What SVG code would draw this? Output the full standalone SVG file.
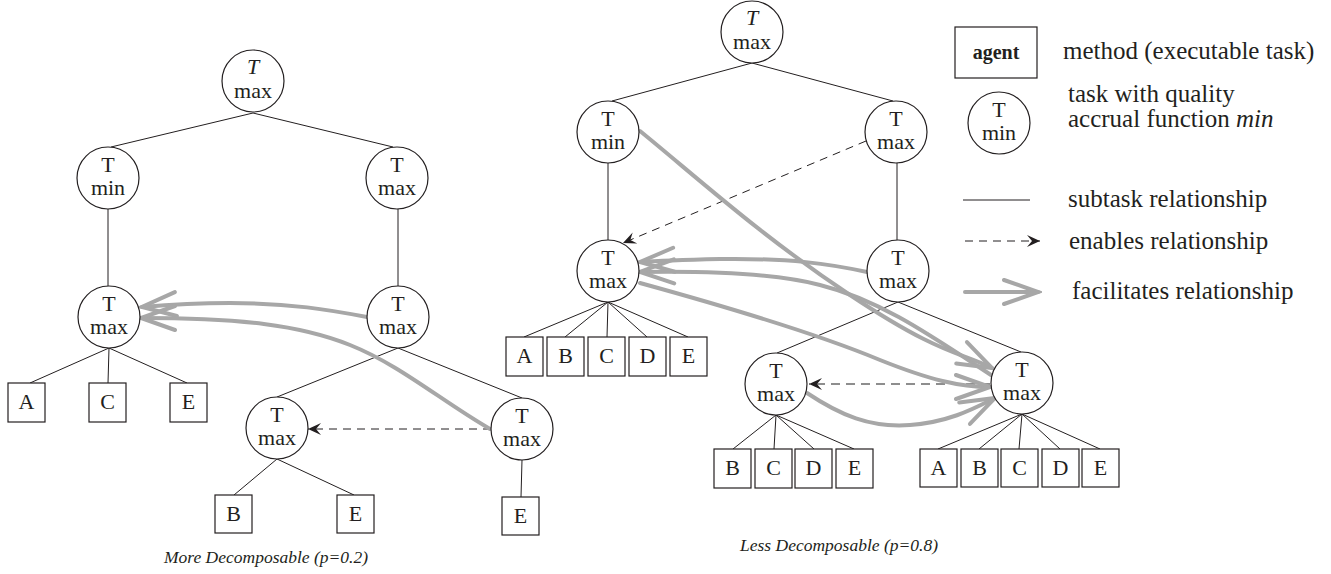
<svg xmlns="http://www.w3.org/2000/svg" width="1331" height="574" viewBox="0 0 1331 574">
<defs>
<style>
.c{fill:#fff;stroke:#231f20;stroke-width:1.2}
.b{fill:#fff;stroke:#231f20;stroke-width:1.2}
.t{font-family:"Liberation Serif",serif;font-size:22px;fill:#231f20;text-anchor:middle}
.ti{font-style:italic}
.l{stroke:#231f20;stroke-width:1;fill:none}
.g{stroke:#a7a7a7;stroke-width:4;fill:none;stroke-linecap:round}
.d{stroke:#231f20;stroke-width:1;fill:none;stroke-dasharray:8 6}
.dg{stroke:#6a6a6a;stroke-width:1.4;fill:none;stroke-dasharray:9 6}
.lg{font-family:"Liberation Serif",serif;font-size:25px;fill:#231f20}
.cap{font-family:"Liberation Serif",serif;font-size:17.5px;font-style:italic;fill:#231f20;text-anchor:middle}
</style>
<marker id="en" markerUnits="userSpaceOnUse" markerWidth="20" markerHeight="14" viewBox="-14 -7 16 14" refX="0" refY="0" orient="auto">
<path d="M0,0 L-13,-6 L-8,0 L-13,6 Z" fill="#231f20"/>
</marker>
<marker id="fa" markerUnits="userSpaceOnUse" markerWidth="44" markerHeight="34" viewBox="-40 -17 44 34" refX="0" refY="0" orient="auto">
<path d="M-34,-12 L0,0 L-34,12" fill="none" stroke="#a7a7a7" stroke-width="4" stroke-linecap="round"/>
</marker>
</defs>

<g id="connectors">
<line class="l" x1="253" y1="113" x2="111" y2="147"/>
<line class="l" x1="253" y1="113" x2="393" y2="147"/>
<line class="l" x1="108" y1="209" x2="108" y2="286"/>
<line class="l" x1="398" y1="209" x2="398" y2="286"/>
<line class="l" x1="109" y1="348" x2="30" y2="383"/>
<line class="l" x1="109" y1="348" x2="108" y2="383"/>
<line class="l" x1="109" y1="348" x2="187" y2="383"/>
<line class="l" x1="398" y1="348" x2="277" y2="397"/>
<line class="l" x1="398" y1="348" x2="522" y2="398"/>
<line class="l" x1="277" y1="459" x2="234" y2="495"/>
<line class="l" x1="277" y1="459" x2="354" y2="495"/>
<line class="l" x1="522" y1="460" x2="521" y2="497"/>
<line class="l" x1="752" y1="63" x2="612" y2="101"/>
<line class="l" x1="752" y1="63" x2="893" y2="101"/>
<line class="l" x1="608" y1="163" x2="608" y2="240"/>
<line class="l" x1="897" y1="163" x2="897" y2="240"/>
<line class="l" x1="608" y1="302" x2="524" y2="337"/>
<line class="l" x1="608" y1="302" x2="565" y2="337"/>
<line class="l" x1="608" y1="302" x2="607" y2="337"/>
<line class="l" x1="608" y1="302" x2="647" y2="337"/>
<line class="l" x1="608" y1="302" x2="688" y2="337"/>
<line class="l" x1="898" y1="302" x2="777" y2="353"/>
<line class="l" x1="898" y1="302" x2="1021" y2="352"/>
<line class="l" x1="776" y1="415" x2="733" y2="449"/>
<line class="l" x1="776" y1="415" x2="774" y2="449"/>
<line class="l" x1="776" y1="415" x2="814" y2="449"/>
<line class="l" x1="776" y1="415" x2="854" y2="449"/>
<line class="l" x1="1022" y1="414" x2="938" y2="449"/>
<line class="l" x1="1022" y1="414" x2="979" y2="449"/>
<line class="l" x1="1022" y1="414" x2="1019" y2="449"/>
<line class="l" x1="1022" y1="414" x2="1060" y2="449"/>
<line class="l" x1="1022" y1="414" x2="1100" y2="449"/>
<line class="d" x1="491" y1="429" x2="308" y2="429" marker-end="url(#en)"/>
<line class="d" x1="866" y1="141" x2="623" y2="243" marker-end="url(#en)"/>
<line class="dg" x1="990" y1="384" x2="809" y2="384" marker-end="url(#en)"/>
<path class="g" d="M367,317 C330,310 290,303 230,303 C190,303 165,305 142,307" marker-end="url(#fa)"/>
<path class="g" d="M490,429 C440,400 400,365 350,345 C300,325 240,318 141,318" marker-end="url(#fa)"/>
<path class="g" d="M867,272 C830,264 790,258 720,259 C680,260 655,261 640,262" marker-end="url(#fa)"/>
<path class="g" d="M991,375 C930,335 880,300 820,285 C770,272 700,271 640,272" marker-end="url(#fa)"/>
<path class="g" d="M640,131 C700,180 760,235 850,295 S960,352 992,368" marker-end="url(#fa)"/>
<path class="g" d="M640,283 C720,305 820,335 880,360 C930,380 960,387 990,387" marker-end="url(#fa)"/>
<path class="g" d="M807,393 C840,415 870,428 910,425 C950,422 975,408 995,398" marker-end="url(#fa)"/>
</g>

<g id="L-root"><circle class="c" cx="253" cy="81" r="31"/><text class="t ti" x="253" y="74">T</text><text class="t" x="253" y="98">max</text></g>
<g id="L-min"><circle class="c" cx="108" cy="178" r="31"/><text class="t" x="108" y="172">T</text><text class="t" x="108" y="195">min</text></g>
<g id="L-max2"><circle class="c" cx="397" cy="178" r="31"/><text class="t" x="397" y="172">T</text><text class="t" x="397" y="195">max</text></g>
<g id="L-max3a"><circle class="c" cx="109" cy="317" r="31"/><text class="t" x="109" y="311">T</text><text class="t" x="109" y="334">max</text></g>
<g id="L-max3b"><circle class="c" cx="398" cy="317" r="31"/><text class="t" x="398" y="311">T</text><text class="t" x="398" y="334">max</text></g>
<g id="L-max4a"><circle class="c" cx="277" cy="428" r="31"/><text class="t" x="277" y="422">T</text><text class="t" x="277" y="445">max</text></g>
<g id="L-max4b"><circle class="c" cx="522" cy="429" r="31"/><text class="t" x="522" y="423">T</text><text class="t" x="522" y="446">max</text></g>
<g id="L-A"><rect class="b" x="8" y="383" width="37" height="39"/><text class="t" x="26.5" y="409">A</text></g>
<g id="L-C"><rect class="b" x="89" y="383" width="37" height="39"/><text class="t" x="107.5" y="409">C</text></g>
<g id="L-E"><rect class="b" x="170" y="383" width="37" height="39"/><text class="t" x="188.5" y="409">E</text></g>
<g id="L-B2"><rect class="b" x="215" y="495" width="37" height="38"/><text class="t" x="233.5" y="521">B</text></g>
<g id="L-E2"><rect class="b" x="337" y="495" width="37" height="38"/><text class="t" x="355.5" y="521">E</text></g>
<g id="L-E3"><rect class="b" x="502" y="497" width="37" height="38"/><text class="t" x="520.5" y="523">E</text></g>
<text class="cap" x="266" y="563">More Decomposable (p=0.2)</text>

<g id="R-root"><circle class="c" cx="752" cy="32" r="31"/><text class="t ti" x="752" y="25">T</text><text class="t" x="752" y="49">max</text></g>
<g id="R-min"><circle class="c" cx="608" cy="132" r="31"/><text class="t" x="608" y="126">T</text><text class="t" x="608" y="149">min</text></g>
<g id="R-max2"><circle class="c" cx="896" cy="132" r="31"/><text class="t" x="896" y="126">T</text><text class="t" x="896" y="149">max</text></g>
<g id="R-max3a"><circle class="c" cx="608" cy="271" r="31"/><text class="t" x="608" y="265">T</text><text class="t" x="608" y="288">max</text></g>
<g id="R-max3b"><circle class="c" cx="898" cy="271" r="31"/><text class="t" x="898" y="265">T</text><text class="t" x="898" y="288">max</text></g>
<g id="R-max4a"><circle class="c" cx="776" cy="384" r="31"/><text class="t" x="776" y="378">T</text><text class="t" x="776" y="401">max</text></g>
<g id="R-max4b"><circle class="c" cx="1022" cy="383" r="31"/><text class="t" x="1022" y="377">T</text><text class="t" x="1022" y="400">max</text></g>
<g id="R-A1"><rect class="b" x="506" y="337" width="37" height="39"/><text class="t" x="524.5" y="363">A</text></g>
<g id="R-B1"><rect class="b" x="547" y="337" width="37" height="39"/><text class="t" x="565.5" y="363">B</text></g>
<g id="R-C1"><rect class="b" x="588" y="337" width="37" height="39"/><text class="t" x="606.5" y="363">C</text></g>
<g id="R-D1"><rect class="b" x="629" y="337" width="37" height="39"/><text class="t" x="647.5" y="363">D</text></g>
<g id="R-E1"><rect class="b" x="670" y="337" width="37" height="39"/><text class="t" x="688.5" y="363">E</text></g>
<g id="R-B2"><rect class="b" x="714" y="449" width="37" height="39"/><text class="t" x="732.5" y="475">B</text></g>
<g id="R-C2"><rect class="b" x="755" y="449" width="37" height="39"/><text class="t" x="773.5" y="475">C</text></g>
<g id="R-D2"><rect class="b" x="795" y="449" width="37" height="39"/><text class="t" x="813.5" y="475">D</text></g>
<g id="R-E2"><rect class="b" x="836" y="449" width="37" height="39"/><text class="t" x="854.5" y="475">E</text></g>
<g id="R-A3"><rect class="b" x="920" y="449" width="37" height="38"/><text class="t" x="938.5" y="475">A</text></g>
<g id="R-B3"><rect class="b" x="961" y="449" width="37" height="38"/><text class="t" x="979.5" y="475">B</text></g>
<g id="R-C3"><rect class="b" x="1001" y="449" width="37" height="38"/><text class="t" x="1019.5" y="475">C</text></g>
<g id="R-D3"><rect class="b" x="1042" y="449" width="37" height="38"/><text class="t" x="1060.5" y="475">D</text></g>
<g id="R-E3"><rect class="b" x="1082" y="449" width="37" height="38"/><text class="t" x="1100.5" y="475">E</text></g>
<text class="cap" x="839" y="551">Less Decomposable (p=0.8)</text>

<g id="legend">
<rect class="b" x="955" y="27" width="82" height="51"/>
<text x="996" y="59" font-family="Liberation Serif,serif" font-size="20" font-weight="bold" fill="#231f20" text-anchor="middle">agent</text>
<text class="lg" x="1063" y="59">method (executable task)</text>
<circle class="c" cx="999" cy="123" r="31"/><text class="t" x="999" y="117">T</text><text class="t" x="999" y="140">min</text>
<text class="lg" x="1068" y="102">task with quality</text>
<text class="lg" x="1068" y="127">accrual function <tspan font-style="italic">min</tspan></text>
<line class="l" x1="963" y1="200" x2="1030" y2="200"/>
<text class="lg" x="1068" y="207">subtask relationship</text>
<line class="d" x1="965" y1="241" x2="1040" y2="241" marker-end="url(#en)"/>
<text class="lg" x="1069" y="249">enables relationship</text>
<line class="g" x1="965" y1="292" x2="1038" y2="292" marker-end="url(#fa)"/>
<text class="lg" x="1072" y="299">facilitates relationship</text>
</g>
</svg>
